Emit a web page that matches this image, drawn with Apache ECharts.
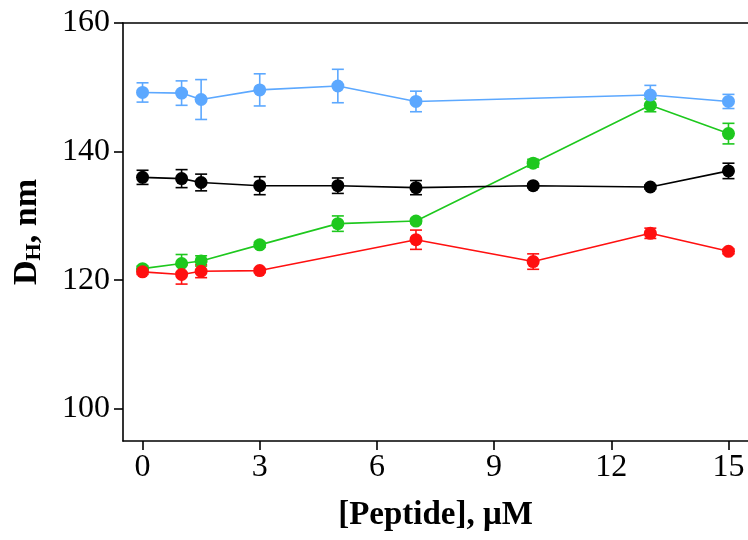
<!DOCTYPE html>
<html><head><meta charset="utf-8">
<script src="https://cdn.jsdelivr.net/npm/echarts@6/dist/echarts.min.js"></script>
<style>html,body{margin:0;padding:0;background:#fff}#c{width:748px;height:540px}</style>
</head><body><div id="c"></div>
<script>
const xTicks = [0, 3, 6, 9, 12, 15];
const yTicks = [100, 120, 140, 160];

const blueX = [0, 1, 1.5, 3, 5, 7, 13, 15];
const blueY = [149.2, 149.1, 148.1, 149.6, 150.2, 147.8, 148.8, 147.8];
const blueErr = [1.5, 1.9, 3.1, 2.5, 2.6, 1.6, 1.5, 1.1];

const blackX = [0, 1, 1.5, 3, 5, 7, 10, 13, 15];
const blackY = [136.0, 135.8, 135.2, 134.7, 134.7, 134.4, 134.7, 134.5, 137.0];
const blackErr = [1.1, 1.4, 1.3, 1.4, 1.2, 1.1, 0.3, 0.3, 1.2];

const greenX = [0, 1, 1.5, 3, 5, 7, 10, 13, 15];
const greenY = [121.8, 122.6, 123.0, 125.5, 128.8, 129.2, 138.2, 147.2, 142.8];
const greenErr = [0.4, 1.4, 0.8, 0.4, 1.2, 0.4, 0.6, 1.0, 1.6];

const redX = [0, 1, 1.5, 3, 7, 10, 13, 15];
const redY = [121.3, 120.9, 121.4, 121.5, 126.3, 122.9, 127.3, 124.5];
const redErr = [0.4, 1.5, 1.0, 0.3, 1.5, 1.2, 0.8, 0.4];

const groups = [
  {name: 'green', color: '#1ec81e', x: greenX, y: greenY, e: greenErr},
  {name: 'red', color: '#ff1010', x: redX, y: redY, e: redErr},
  {name: 'black', color: '#000000', x: blackX, y: blackY, e: blackErr},
  {name: 'blue', color: '#5ca8ff', x: blueX, y: blueY, e: blueErr}
];

const series = [];
groups.forEach(g => {
  series.push({
    type: 'custom', name: g.name + '_err', xAxisIndex: 0, yAxisIndex: 0,
    data: g.x.map((v, i) => [v, g.y[i] - g.e[i], g.y[i] + g.e[i]]),
    encode: {x: 0, y: [1, 2]},
    renderItem: function (params, api) {
      const lo = api.coord([api.value(0), api.value(1)]);
      const hi = api.coord([api.value(0), api.value(2)]);
      const w = 6;
      const st = {stroke: g.color, lineWidth: 1.6};
      return {type: 'group', children: [
        {type: 'line', shape: {x1: lo[0], y1: lo[1], x2: hi[0], y2: hi[1]}, style: st},
        {type: 'line', shape: {x1: lo[0] - w, y1: lo[1], x2: lo[0] + w, y2: lo[1]}, style: st},
        {type: 'line', shape: {x1: hi[0] - w, y1: hi[1], x2: hi[0] + w, y2: hi[1]}, style: st}
      ]};
    },
    silent: true
  });
  series.push({
    type: 'line', name: g.name, xAxisIndex: 0, yAxisIndex: 0,
    data: g.x.map((v, i) => [v, g.y[i]]),
    symbol: 'circle', symbolSize: 13,
    lineStyle: {color: g.color, width: 1.6},
    itemStyle: {color: g.color},
    animation: false
  });
});

const chart = echarts.init(document.getElementById('c'), null, {renderer: 'canvas'});
chart.setOption({
  animation: false,
  backgroundColor: '#fff',
  grid: {left: 123, top: 23, width: 627, height: 418, containLabel: false},
  xAxis: [{
    type: 'value', min: -0.5, max: 15.5, position: 'bottom',
    axisLine: {show: true, onZero: false, lineStyle: {color: '#000', width: 1.6}},
    axisTick: {show: true, length: 9, inside: false, customValues: xTicks, lineStyle: {color: '#000', width: 1.6}},
    axisLabel: {customValues: xTicks, color: '#000', fontFamily: 'Liberation Serif', fontSize: 32, margin: 11},
    splitLine: {show: false},
    name: '[Peptide], μM', nameLocation: 'middle', nameGap: 58,
    nameTextStyle: {color: '#000', fontFamily: 'Liberation Serif', fontWeight: 'bold', fontSize: 33}
  }, {
    type: 'value', min: -0.5, max: 15.5, position: 'top',
    axisLine: {show: true, onZero: false, lineStyle: {color: '#000', width: 1.6}},
    axisTick: {show: false}, axisLabel: {show: false}, splitLine: {show: false}
  }],
  yAxis: [{
    type: 'value', min: 95, max: 160,
    axisLine: {show: true, onZero: false, lineStyle: {color: '#000', width: 1.6}},
    axisTick: {show: true, length: 9, customValues: yTicks, lineStyle: {color: '#000', width: 1.6}},
    axisLabel: {customValues: yTicks, color: '#000', fontFamily: 'Liberation Serif', fontSize: 32, margin: 13},
    splitLine: {show: false},
    name: '{a|D}{b|H}{a|, nm}', nameLocation: 'middle', nameGap: 78, nameRotate: 90,
    nameTextStyle: {
      color: '#000', fontFamily: 'Liberation Serif', fontWeight: 'bold', fontSize: 34,
      rich: {
        a: {fontFamily: 'Liberation Serif', fontWeight: 'bold', fontSize: 34, color: '#000'},
        b: {fontFamily: 'Liberation Serif', fontWeight: 'bold', fontSize: 22, color: '#000', verticalAlign: 'bottom', padding: [14, 0, 0, 0]}
      }
    }
  }],
  series: series
});
</script></body></html>
